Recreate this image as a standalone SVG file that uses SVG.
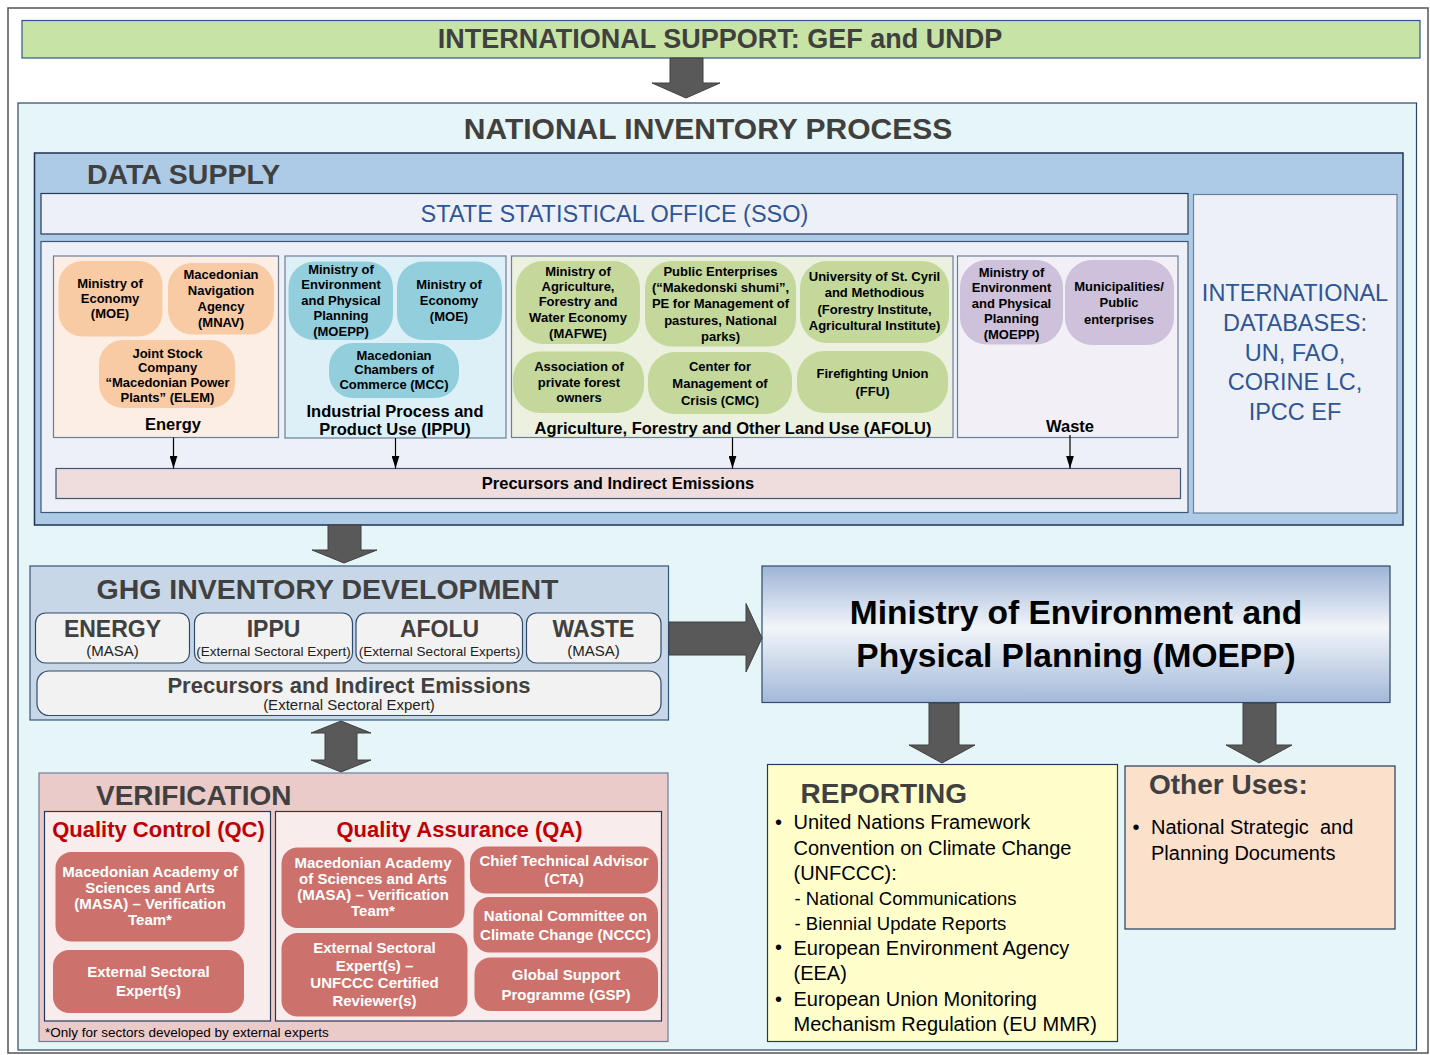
<svg xmlns="http://www.w3.org/2000/svg" width="1430" height="1055" viewBox="0 0 1430 1055">
<defs>
<style>
text{font-family:"Liberation Sans",Arial,sans-serif;}
.t{font-weight:bold;fill:#404040;}
.n{font-weight:bold;font-size:13px;text-anchor:middle;fill:#000;}
.lab{font-weight:bold;font-size:16.5px;text-anchor:middle;fill:#000;}
.blue{fill:#2f5597;text-anchor:middle;}
.vn{font-weight:bold;font-size:15px;text-anchor:middle;fill:#fff;}
.red{font-weight:bold;font-size:22px;text-anchor:middle;fill:#c00000;}
.rep{font-size:20px;fill:#000;}
.sub{font-size:18.5px;fill:#000;}
.box{stroke:#243b5a;stroke-width:1.2;}
.sec{stroke:#6b7f99;stroke-width:1.2;}
.en{fill:#f8cba5;}
.ip{fill:#93cedd;}
.af{fill:#c4d89c;}
.wa{fill:#cdc1db;}
.vr{fill:#cd716c;}
.gb{fill:#f2f2f2;stroke:#2f4b6e;stroke-width:1.2;}
.blk{fill:#595959;stroke:#404040;stroke-width:1;}
.thin{stroke:#000;stroke-width:1.2;fill:none;marker-end:url(#ah);}
</style>
<marker id="ah" viewBox="0 0 13 8" refX="13" refY="4" markerWidth="13" markerHeight="8" markerUnits="userSpaceOnUse" orient="auto">
<path d="M0,0 L13,4 L0,8 z" fill="#000"/>
</marker>
<linearGradient id="mg" x1="0" y1="0" x2="0" y2="1">
<stop offset="0" stop-color="#9db4d6"/>
<stop offset="0.45" stop-color="#f2f5fa"/>
<stop offset="1" stop-color="#a3b9d8"/>
</linearGradient>
</defs>

<rect x="8" y="8" width="1420" height="1045" fill="#fff" stroke="#555" stroke-width="1.5"/>

<g id="intl-support">
<rect x="22" y="20.5" width="1398" height="37.5" fill="#c7e4a6" stroke="#2f5597" stroke-width="1.2"/>
<text class="t" x="720" y="47.5" font-size="27" text-anchor="middle">INTERNATIONAL SUPPORT: GEF and UNDP</text>
</g>

<g id="national-process">
<rect x="18" y="103" width="1398.5" height="947" fill="#e6f5f8" stroke="#2d4665" stroke-width="1.2"/>
<text class="t" x="708" y="139" font-size="30" text-anchor="middle">NATIONAL INVENTORY PROCESS</text>
</g>

<g id="data-supply">
<rect x="34.5" y="153" width="1368.5" height="372" fill="#adcae6" stroke="#1f3350" stroke-width="1.5"/>
<text class="t" x="87" y="184" font-size="28.5">DATA SUPPLY</text>
</g>

<g id="sso">
<rect x="41" y="193.5" width="1147" height="40.5" fill="#edf1f7" class="box"/>
<text class="blue" x="614.5" y="221.5" font-size="23.5">STATE STATISTICAL OFFICE (SSO)</text>
</g>

<g id="intl-databases">
<rect x="1193.5" y="194.5" width="203.5" height="318.5" fill="#edf1f7" stroke="#6b7f99" stroke-width="1.2"/>
<text class="blue" font-size="23.5"><tspan x="1295" y="301">INTERNATIONAL</tspan><tspan x="1295" y="331">DATABASES:</tspan><tspan x="1295" y="361">UN, FAO,</tspan><tspan x="1295" y="390">CORINE LC,</tspan><tspan x="1295" y="420">IPCC EF</tspan></text>
</g>

<g id="sectors">
<rect x="41" y="241.5" width="1147" height="271" fill="#edf1f7" stroke="#3d5577" stroke-width="1.2"/>
</g>

<g id="energy">
<rect x="53.5" y="256" width="225" height="181.5" fill="#fdeee5" class="sec"/>
<rect x="58.5" y="261" width="104" height="75.5" rx="24" class="en"/>
<text class="n"><tspan x="110" y="287.5">Ministry of</tspan><tspan x="110" y="302.5">Economy</tspan><tspan x="110" y="317.5">(MOE)</tspan></text>
<rect x="168" y="263" width="106" height="71.5" rx="24" class="en"/>
<text class="n"><tspan x="221" y="278.5">Macedonian</tspan><tspan x="221" y="294.5">Navigation</tspan><tspan x="221" y="310.5">Agency</tspan><tspan x="221" y="326.5">(MNAV)</tspan></text>
<rect x="99" y="340" width="136" height="68" rx="24" class="en"/>
<text class="n"><tspan x="167.5" y="357.5">Joint Stock</tspan><tspan x="167.5" y="372">Company</tspan><tspan x="167.5" y="386.5">“Macedonian Power</tspan><tspan x="167.5" y="401.5">Plants” (ELEM)</tspan></text>
<text class="lab" x="173" y="430">Energy</text>
</g>

<g id="ippu">
<rect x="285" y="256" width="221" height="182" fill="#ddf0f7" class="sec"/>
<rect x="288.5" y="261.5" width="104.5" height="78.5" rx="26" class="ip"/>
<text class="n"><tspan x="341" y="273.5">Ministry of</tspan><tspan x="341" y="288.5">Environment</tspan><tspan x="341" y="304.5">and Physical</tspan><tspan x="341" y="319.5">Planning</tspan><tspan x="341" y="335.5">(MOEPP)</tspan></text>
<rect x="397" y="261.5" width="105" height="78.5" rx="26" class="ip"/>
<text class="n"><tspan x="449" y="288.5">Ministry of</tspan><tspan x="449" y="304.5">Economy</tspan><tspan x="449" y="320.5">(MOE)</tspan></text>
<rect x="329" y="343" width="130" height="55" rx="24" class="ip"/>
<text class="n"><tspan x="394" y="359.5">Macedonian</tspan><tspan x="394" y="374">Chambers of</tspan><tspan x="394" y="388.5">Commerce (MCC)</tspan></text>
<text class="lab"><tspan x="395" y="417">Industrial Process and</tspan><tspan x="395" y="435">Product Use (IPPU)</tspan></text>
</g>

<g id="afolu">
<rect x="511.5" y="256" width="441.5" height="181.5" fill="#ebf1de" class="sec"/>
<rect x="516" y="261" width="124" height="83" rx="27" class="af"/>
<text class="n"><tspan x="578" y="275.5">Ministry of</tspan><tspan x="578" y="290.5">Agriculture,</tspan><tspan x="578" y="305.5">Forestry and</tspan><tspan x="578" y="321.5">Water Economy</tspan><tspan x="578" y="337.5">(MAFWE)</tspan></text>
<rect x="645" y="261" width="151" height="85.5" rx="27" class="af"/>
<text class="n"><tspan x="720.5" y="275.5">Public Enterprises</tspan><tspan x="720.5" y="291.5">(“Makedonski shumi”,</tspan><tspan x="720.5" y="307.5">PE for Management of</tspan><tspan x="720.5" y="324.5">pastures, National</tspan><tspan x="720.5" y="341">parks)</tspan></text>
<rect x="800" y="261" width="149" height="82" rx="27" class="af"/>
<text class="n"><tspan x="874.5" y="280.5">University of St. Cyril</tspan><tspan x="874.5" y="296.5">and Methodious</tspan><tspan x="874.5" y="313.5">(Forestry Institute,</tspan><tspan x="874.5" y="329.5">Agricultural Institute)</tspan></text>
<rect x="513" y="351.5" width="131" height="61.5" rx="27" class="af"/>
<text class="n"><tspan x="579" y="370.5">Association of</tspan><tspan x="579" y="386.5">private forest</tspan><tspan x="579" y="401.5">owners</tspan></text>
<rect x="648" y="352" width="144" height="62" rx="27" class="af"/>
<text class="n"><tspan x="720" y="371">Center for</tspan><tspan x="720" y="388">Management of</tspan><tspan x="720" y="405">Crisis (CMC)</tspan></text>
<rect x="797" y="351" width="151" height="62" rx="27" class="af"/>
<text class="n"><tspan x="872.5" y="377.5">Firefighting Union</tspan><tspan x="872.5" y="395.5">(FFU)</tspan></text>
<text class="lab" x="733" y="433.5">Agriculture, Forestry and Other Land Use (AFOLU)</text>
</g>

<g id="waste">
<rect x="957.5" y="256" width="220.5" height="181.5" fill="#f2f0f6" class="sec"/>
<rect x="960" y="260" width="103" height="84.5" rx="27" class="wa"/>
<text class="n"><tspan x="1011.5" y="276.5">Ministry of</tspan><tspan x="1011.5" y="291.5">Environment</tspan><tspan x="1011.5" y="307.5">and Physical</tspan><tspan x="1011.5" y="322.5">Planning</tspan><tspan x="1011.5" y="338.5">(MOEPP)</tspan></text>
<rect x="1065" y="260" width="109" height="85" rx="27" class="wa"/>
<text class="n"><tspan x="1119" y="290.5">Municipalities/</tspan><tspan x="1119" y="306.5">Public</tspan><tspan x="1119" y="323.5">enterprises</tspan></text>
<text class="lab" x="1070" y="432">Waste</text>
</g>

<g id="precursors-ds">
<rect x="56" y="468.5" width="1124.5" height="30" fill="#efdcdc" stroke="#3d5577" stroke-width="1.2"/>
<text class="lab" x="618" y="489" font-size="16">Precursors and Indirect Emissions</text>
</g>

<g id="ghg">
<rect x="30" y="566" width="638.5" height="154" fill="#c8d7e7" stroke="#34557d" stroke-width="1.2"/>
<text class="t" x="96.5" y="598.5" font-size="28.5">GHG INVENTORY DEVELOPMENT</text>
<rect x="35.5" y="613" width="154" height="50" rx="10" class="gb"/>
<text font-weight="bold" font-size="23" text-anchor="middle" fill="#404040" x="112.5" y="637">ENERGY</text>
<text font-size="15" text-anchor="middle" fill="#222" x="112.5" y="655.5">(MASA)</text>
<rect x="194.5" y="613" width="158" height="50" rx="10" class="gb"/>
<text font-weight="bold" font-size="23" text-anchor="middle" fill="#404040" x="273.5" y="637">IPPU</text>
<text font-size="13.5" text-anchor="middle" fill="#222" x="273.5" y="655.5">(External Sectoral Expert)</text>
<rect x="356" y="613" width="166.5" height="50" rx="10" class="gb"/>
<text font-weight="bold" font-size="23" text-anchor="middle" fill="#404040" x="439.5" y="637">AFOLU</text>
<text font-size="13.5" text-anchor="middle" fill="#222" x="439.5" y="655.5">(External Sectoral Experts)</text>
<rect x="526.5" y="613" width="134.5" height="50" rx="10" class="gb"/>
<text font-weight="bold" font-size="23" text-anchor="middle" fill="#404040" x="593.5" y="637">WASTE</text>
<text font-size="15" text-anchor="middle" fill="#222" x="593.5" y="655.5">(MASA)</text>
<rect x="37" y="671" width="624" height="44.5" rx="12" class="gb"/>
<text font-weight="bold" font-size="22" text-anchor="middle" fill="#404040" x="349" y="693">Precursors and Indirect Emissions</text>
<text font-size="15" text-anchor="middle" fill="#222" x="349" y="710">(External Sectoral Expert)</text>
</g>

<g id="moepp">
<rect x="762" y="566" width="628" height="136.5" fill="url(#mg)" stroke="#2f4a6e" stroke-width="1.2"/>
<text font-weight="bold" font-size="33.5" text-anchor="middle" fill="#000"><tspan x="1076" y="624">Ministry of Environment and</tspan><tspan x="1076" y="666.5">Physical Planning (MOEPP)</tspan></text>
</g>

<g id="verification">
<rect x="39" y="773" width="629" height="268.5" fill="#ebcaca" stroke="#6b7f99" stroke-width="1.2"/>
<text class="t" x="96" y="805" font-size="28">VERIFICATION</text>
<rect x="44.5" y="811.5" width="226" height="209.5" fill="#f8ecec" class="box"/>
<text class="red" x="158.5" y="837">Quality Control (QC)</text>
<rect x="275.5" y="811.5" width="386" height="209.5" fill="#f8ecec" class="box"/>
<text class="red" x="459.5" y="837">Quality Assurance (QA)</text>
<rect x="55.5" y="852" width="189" height="89.5" rx="16" class="vr"/>
<text class="vn"><tspan x="150" y="877">Macedonian Academy of</tspan><tspan x="150" y="893">Sciences and Arts</tspan><tspan x="150" y="908.5">(MASA) – Verification</tspan><tspan x="150" y="924.5">Team*</tspan></text>
<rect x="53" y="950" width="191" height="63" rx="16" class="vr"/>
<text class="vn"><tspan x="148.5" y="977">External Sectoral</tspan><tspan x="148.5" y="996">Expert(s)</tspan></text>
<rect x="281.5" y="847.5" width="183" height="80.5" rx="16" class="vr"/>
<text class="vn"><tspan x="373" y="868">Macedonian Academy</tspan><tspan x="373" y="884">of Sciences and Arts</tspan><tspan x="373" y="900">(MASA) – Verification</tspan><tspan x="373" y="916">Team*</tspan></text>
<rect x="281.5" y="933" width="186" height="83.5" rx="16" class="vr"/>
<text class="vn"><tspan x="374.5" y="953">External Sectoral</tspan><tspan x="374.5" y="970.5">Expert(s) –</tspan><tspan x="374.5" y="987.5">UNFCCC Certified</tspan><tspan x="374.5" y="1005.5">Reviewer(s)</tspan></text>
<rect x="470" y="846.5" width="188" height="47" rx="16" class="vr"/>
<text class="vn"><tspan x="564" y="865.5">Chief Technical Advisor</tspan><tspan x="564" y="884">(CTA)</tspan></text>
<rect x="473.5" y="897" width="184.5" height="55.5" rx="16" class="vr"/>
<text class="vn"><tspan x="565.5" y="920.5">National Committee on</tspan><tspan x="565.5" y="939.5">Climate Change (NCCC)</tspan></text>
<rect x="474.5" y="957.5" width="183.5" height="53.5" rx="16" class="vr"/>
<text class="vn"><tspan x="566" y="979.5">Global Support</tspan><tspan x="566" y="999.5">Programme (GSP)</tspan></text>
<text x="45" y="1036.5" font-size="13.5" fill="#000">*Only for sectors developed by external experts</text>
</g>

<g id="reporting">
<rect x="767.5" y="764.5" width="350" height="277" fill="#ffffcc" class="box"/>
<text class="t" x="800.5" y="803" font-size="28">REPORTING</text>
<text class="rep"><tspan x="775" y="829">•</tspan><tspan x="775" y="954">•</tspan><tspan x="775" y="1005.5">•</tspan></text>
<text class="rep"><tspan x="793.5" y="829">United Nations Framework</tspan><tspan x="793.5" y="854.5">Convention on Climate Change</tspan><tspan x="793.5" y="880">(UNFCCC):</tspan></text>
<text class="sub"><tspan x="794.5" y="904.5">- National Communications</tspan><tspan x="794.5" y="929.5">- Biennial Update Reports</tspan></text>
<text class="rep"><tspan x="793.5" y="954.5">European Environment Agency</tspan><tspan x="793.5" y="980">(EEA)</tspan><tspan x="793.5" y="1005.5">European Union Monitoring</tspan><tspan x="793.5" y="1031">Mechanism Regulation (EU MMR)</tspan></text>
</g>

<g id="other-uses">
<rect x="1125" y="766" width="270" height="163" fill="#fbe0cc" class="box"/>
<text class="t" x="1149" y="794" font-size="28">Other Uses:</text>
<text class="rep"><tspan x="1132.5" y="834">•</tspan></text>
<text class="rep"><tspan x="1151" y="834">National Strategic&#160; and</tspan><tspan x="1151" y="860">Planning Documents</tspan></text>
</g>

<g id="connectors">
<polygon class="blk" points="670,58 703,58 703,83 720,83 686,98 652,83 670,83"/>
<polygon class="blk" points="328,525 361,525 361,550 377,550 344,563 312,550 328,550"/>
<polygon class="blk" points="669,622 746,622 746,603.5 762,638 746,672 746,655 669,655"/>
<polygon class="blk" points="341,721 371,733 357,733 357,760 371,760 341,772 311,760 325,760 325,733 311,733"/>
<polygon class="blk" points="929,703 959,703 959,745 975,745 942,763 909,745 929,745"/>
<polygon class="blk" points="1243,703 1276,703 1276,745 1292,745 1259,763 1226,745 1243,745"/>
<line class="thin" x1="173.5" y1="437.5" x2="173.5" y2="468.5"/>
<line class="thin" x1="395.5" y1="438" x2="395.5" y2="468.5"/>
<line class="thin" x1="732.5" y1="437.5" x2="732.5" y2="468.5"/>
<line class="thin" x1="1070" y1="435" x2="1070" y2="468.5"/>
</g>
</svg>
